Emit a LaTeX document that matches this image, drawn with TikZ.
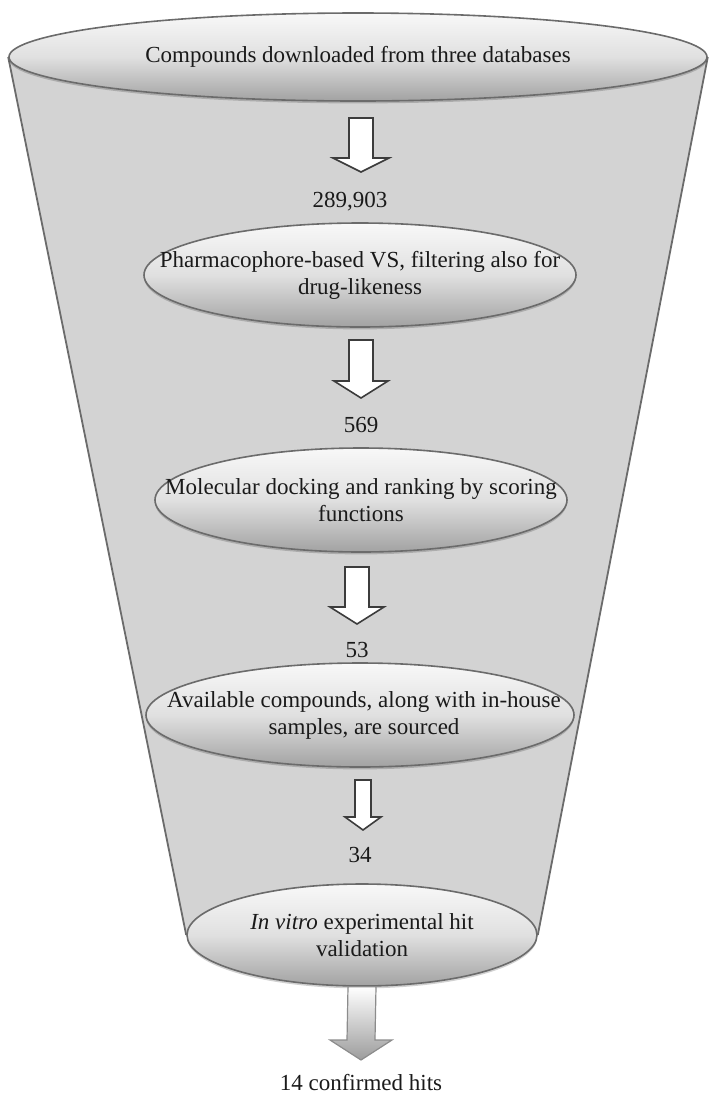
\documentclass[tikz,border=0pt]{standalone}
\usepackage{fontspec}
\setmainfont{Liberation Serif}
\usetikzlibrary{shapes.geometric,calc,backgrounds,shadows}
\definecolor{funnelfill}{HTML}{D3D3D3}
\definecolor{edgegray}{HTML}{6B6B6B}
\definecolor{shtop}{HTML}{F8F8F8}
\definecolor{shmid}{HTML}{E0E0E0}
\definecolor{shbot}{HTML}{A2A2A2}
\definecolor{txt}{HTML}{1A1A1A}
\definecolor{arrowedge}{HTML}{3C3C3C}
\definecolor{botarrow}{HTML}{9C9C9C}
\newcommand\blockarrow[6]{%
  \path[#1] ($(#2)+(-#4,0)$) -- ($(#3)+(-#4,-#6)$) -- ($(#3)+(-#5,-#6)$) -- (#3)
    -- ($(#3)+(#5,-#6)$) -- ($(#3)+(#4,-#6)$) -- ($(#2)+(#4,0)$) -- cycle;}
\begin{document}
\begin{tikzpicture}[x=0.5pt,y=-0.5pt,
  font=\fontsize{11.5pt}{13.5pt}\selectfont,
  stage/.style={ellipse, draw=edgegray, line width=0.8pt, inner sep=0pt,
    top color=shtop, bottom color=shbot, middle color=shmid,
    drop shadow={shadow xshift=0pt, shadow yshift=-1.2pt, opacity=0.18, fill=black}},
  stagetext/.style={align=center, text=txt, inner sep=0pt},
  num/.style={text=txt, inner sep=0pt},
  hollowarrow/.style={draw=arrowedge, fill=white, line width=0.8pt, line join=miter},
  shadedarrow/.style={draw=botarrow!90!black, top color=white, bottom color=botarrow,
    line width=0.6pt, line join=miter},
  funneledge/.style={draw=edgegray, line width=0.9pt}]
\useasboundingbox (0,0) rectangle (709,1099);

% stages
\node[stage, minimum width=349pt, minimum height=44pt] (e1) at (358,57) {};
\node[stagetext] (t1) at (e1.center) {Compounds downloaded from three databases};

\node[stage, minimum width=216pt, minimum height=52pt] (e2) at (360,275) {};
\node[stagetext] (t2) at (e2.center) {Pharmacophore-based VS, filtering also for\\drug-likeness};

\node[stage, minimum width=206pt, minimum height=52pt] (e3) at (361,500) {};
\node[stagetext] (t3) at (e3.center) {Molecular docking and ranking by scoring\\functions};

\node[stage, minimum width=214pt, minimum height=52pt] (e4) at (360,715) {};
\node[stagetext] (t4) at ($(e4.center)+(4,0)$) {Available compounds, along with in-house\\samples, are sourced};

\node[stage, minimum width=175pt, minimum height=51pt] (e5) at (362,935) {};
\node[stagetext] (t5) at (e5.center) {\itshape In vitro\upshape{} experimental hit\\validation};

% funnel body
\begin{scope}[on background layer]
  \fill[funnelfill] (e1.west) -- (e5.west) -- (e5.east) -- (e1.east) -- cycle;
  \draw[funneledge] (e1.west) -- (e5.west);
  \draw[funneledge] (e1.east) -- (e5.east);
\end{scope}

% counts
\node[num] (n1) at (350,202) {289,903};
\node[num] (n2) at (361,425) {569};
\node[num] (n3) at (357,650) {53};
\node[num] (n4) at (360,855) {34};
\node[num] (hits) at (361,1083) {14 confirmed hits};

% arrows
\coordinate (a1s) at (361,118); \coordinate (a1e) at (361,172);
\coordinate (a2s) at (361,340); \coordinate (a2e) at (361,398);
\coordinate (a3s) at (357,567); \coordinate (a3e) at (357,624);
\coordinate (a4s) at (363,780); \coordinate (a4e) at (363,830);
\coordinate (a5s) at (e5.south); \coordinate (a5e) at (361,1060);
\blockarrow{hollowarrow}{a1s}{a1e}{12}{28}{14}
\blockarrow{hollowarrow}{a2s}{a2e}{12}{27}{17}
\blockarrow{hollowarrow}{a3s}{a3e}{12}{27}{17}
\blockarrow{hollowarrow}{a4s}{a4e}{8}{18}{13}
\blockarrow{shadedarrow}{a5s}{a5e}{14}{31}{20}
\end{tikzpicture}
\end{document}
